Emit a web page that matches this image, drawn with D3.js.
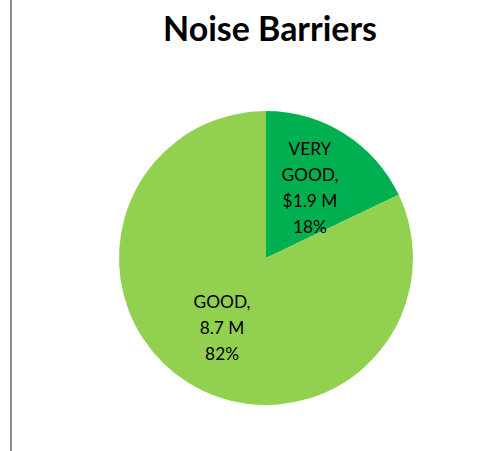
<!DOCTYPE html>
<html>
<head>
<meta charset="utf-8">
<script src="https://cdn.jsdelivr.net/npm/d3@7"></script>
<style>
  html, body { margin: 0; padding: 0; background: #fff; }
  svg { display: block; }
</style>
</head>
<body>
<svg id="chart" width="484" height="451"></svg>
<script>
const title = "Noise Barriers";
const categories = ["VERY GOOD", "GOOD"];
const values = [1.9, 8.7];
const labelLines = [
  ["VERY", "GOOD,", "$1.9 M", "18%"],
  ["GOOD,", "8.7 M", "82%"]
];
const colors = ["#00B050", "#92D050"];

const svg = d3.select("#chart");
const W = 484, H = 451;
const cx = 266, cy = 258, R = 147;
const FONT = "Lato, 'Open Sans', 'DejaVu Sans', sans-serif";

svg.append("rect").attr("width", W).attr("height", H).attr("fill", "#fff");
// left frame line
svg.append("line")
  .attr("x1", 11).attr("x2", 11).attr("y1", 0).attr("y2", H)
  .attr("stroke", "#8f8f8f").attr("stroke-width", 2);

// title, sized to match target width
const t = svg.append("text")
  .attr("x", 270).attr("y", 41)
  .attr("text-anchor", "middle")
  .attr("font-family", FONT).attr("font-weight", "bold")
  .attr("font-size", 30).attr("fill", "#000")
  .text(title);
let tw = t.node().getComputedTextLength();
t.attr("font-size", 30 * 214 / tw);

const pie = d3.pie().sort(null).value(d => d)
  .startAngle(0).endAngle(2 * Math.PI);
const arcs = pie(values);
const arc = d3.arc().innerRadius(0).outerRadius(R);
const labelArc = d3.arc().innerRadius(R * 0.56).outerRadius(R * 0.56);

const g = svg.append("g").attr("transform", `translate(${cx},${cy})`);
g.selectAll("path").data(arcs).join("path")
  .attr("d", arc)
  .attr("fill", (d, i) => colors[i]);

// label font size: fit "GOOD," to ~57px
const probe = svg.append("text").attr("font-family", FONT).attr("font-size", 20).text("GOOD,");
const pw = probe.node().getComputedTextLength();
probe.remove();
const lfs = 20 * 57 / pw;
const lh = 26;

arcs.forEach((a, i) => {
  const [lx, ly] = labelArc.centroid(a);
  const lines = labelLines[i];
  const n = lines.length;
  const capH = lfs * 0.7;
  // block from cap-top of first line to baseline of last
  const blockH = capH + (n - 1) * lh;
  const firstBase = ly - blockH / 2 + capH;
  const txt = g.append("text")
    .attr("text-anchor", "middle")
    .attr("font-family", FONT).attr("font-size", lfs).attr("fill", "#000");
  lines.forEach((s, k) => {
    txt.append("tspan").attr("x", lx).attr("y", firstBase + k * lh).text(s);
  });
});
</script>
</body>
</html>
